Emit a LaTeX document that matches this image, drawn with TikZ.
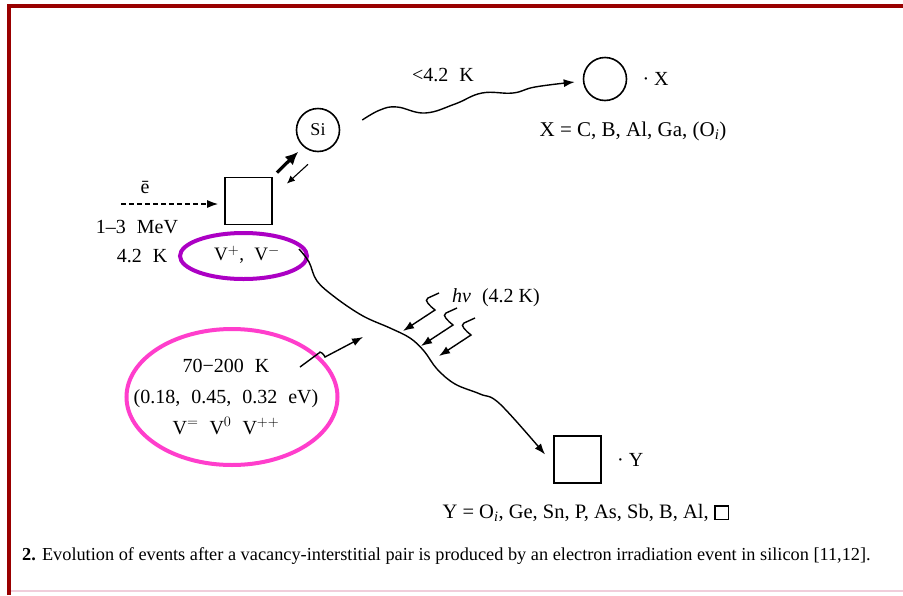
\documentclass[tikz,border=0pt]{standalone}
\usepackage{fontspec}
\setmainfont{Liberation Serif}
\usetikzlibrary{arrows.meta,positioning,calc}

\definecolor{framered}{RGB}{153,0,0}
\definecolor{framepink}{RGB}{240,205,218}
\definecolor{vring}{RGB}{172,0,196}
\definecolor{sring}{RGB}{255,62,204}
\newcommand{\wsp}{\hspace{0.55em}}

\begin{document}
\begin{tikzpicture}[
    x=1pt, y=-1pt,
    node distance=6pt and 10pt,
    lbl/.style={inner sep=1pt, font=\fontsize{20}{23}\selectfont},
    atom/.style={draw, circle, line width=1.6pt, minimum size=43pt, inner sep=0pt, font=\fontsize{18}{20}\selectfont},
    hole/.style={draw, rectangle, line width=1.8pt, minimum size=47pt, inner sep=0pt},
    ring/.style={line width=4pt},
    myedge/.style={-{Latex[length=11pt,width=8pt]}, line width=1.4pt},
    kick/.style={-{Latex[length=13pt,width=12pt]}, line width=3.2pt}
]
\useasboundingbox (0,0) rectangle (903,595);
\fill[white] (0,0) rectangle (903,595);
\draw[framered, line width=4pt] (9,595) -- (9,6) -- (903,6);
\draw[framepink, line width=1.5pt] (11,591) -- (903,591);

% sites
\node[atom] (si) at (318,130) {Si};
\node[hole] (vac) at (248.5,201) {};
\node[atom] (xat) at (605,79) {};
\node[hole] (ybox) at (577.5,459.5) {};

% labels
\node[lbl] (ebar) at (145,187) {ē};
\coordinate (ein) at (121,204);
\node[lbl] (mev) at (137,227) {1–3\wsp MeV};
\node[lbl] (temp) at (142,256) {4.2\wsp K};
\node[lbl, font=\fontsize{19}{22}\selectfont] (vpair) at (247,255) {V$^+$,\wsp V$^-$};
\node[lbl, align=center, font=\fontsize{20}{31}\selectfont] (vstates) at (226,397)
    {70−200\wsp K\\(0.18,\wsp 0.45,\wsp 0.32\wsp eV)\\V$^=$\wsp V$^0$\wsp V$^{++}$};
\node[lbl] (cold) at (443,75) {<4.2\wsp K};
\node[lbl, right=14pt of xat] (xdot) {· X};
\node[lbl, font=\fontsize{21}{24}\selectfont] (xlist) at (633,131) {X = C, B, Al, Ga, (O\textsubscript{\textit{i}})};
\node[lbl, right=14pt of ybox] (ydot) {· Y};
\node[lbl, font=\fontsize{20.5}{24}\selectfont] (ylist) at (586,513) {Y = O\textsubscript{\textit{i}}, Ge, Sn, P, As, Sb, B, Al,
    {\fboxrule=1.8pt\fboxsep=0pt\fbox{\rule{0pt}{12pt}\hspace{12pt}}}};
\node[lbl] (hv) at (496,298) {\textit{hν}\wsp (4.2 K)};
\node[anchor=west, inner sep=0pt, font=\fontsize{18.3}{21}\selectfont] (caption) at (22,556)
    {\textbf{2.} Evolution of events after a vacancy-interstitial pair is produced by an electron irradiation event in silicon [11,12].};

% highlight rings
\draw[ring, vring] ($(vpair)+(-3.5,1)$) ellipse [x radius=63.5, y radius=23];
\draw[ring, sring] ($(vstates)+(6,0)$) ellipse [x radius=105.5, y radius=68];

% arrows
\draw[myedge, dash pattern=on 5pt off 3pt, line width=1.2pt] (ein) -- ($(vac.west)+(-6,3)$);
\draw[kick] ($(vac.north east)+(4,-4)$) -- ($(si.south west)+(-4,6)$);
\draw[-{Latex[length=8pt,width=7pt]}, line width=1.1pt] ($(si.south)+(-10,12)$) -- ($(vac.north east)+(14,7)$);
\draw[myedge] plot[smooth, tension=.7] coordinates {($(si.east)+(22,-10)$) (380,110) (397,107) (425,113) (455,104) (482,93) (513,93) (535,87) ($(xat.west)+(-8,3)$)};
\draw[myedge] plot[smooth, tension=.6] coordinates {($(vpair)+(52,-6)$) (309,262) (317,281) (336,298) (363,316) (390,328) (410,338) (424,351) (437,369) (455,384) (480,394) (500,404) ($(ybox.west)+(-8,-5)$)};

% photons
\draw[myedge] (439,293) -- ++(-11,5) to[out=205,in=140] ++(7,12) -- ++(-32,21);
\draw[myedge] (457,308) -- ++(-11,5) to[out=205,in=140] ++(7,12) -- ++(-32,21);
\draw[myedge] (475,318) -- ++(-11,5) to[out=205,in=140] ++(7,12) -- ++(-32,21);

% ionisation
\draw[myedge] ($(vstates)+(74,-30)$) -- ++(19,-14) to[out=80,in=110] ++(6,4) -- ++(38,-20);
\end{tikzpicture}
\end{document}
